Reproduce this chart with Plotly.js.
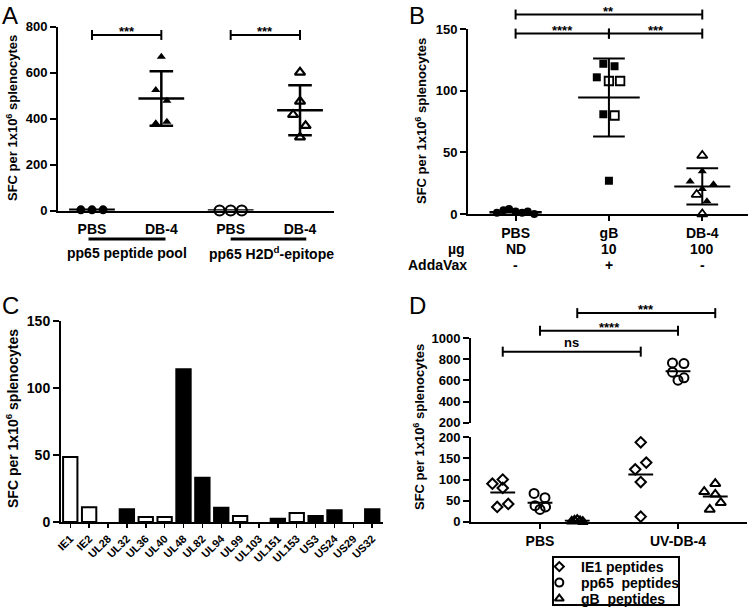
<!DOCTYPE html>
<html><head><meta charset="utf-8">
<script src="https://cdn.plot.ly/plotly-3.0.1.min.js"></script>
<style>html,body{margin:0;padding:0;background:#fff;overflow:hidden;}#chart{width:750px;height:611px;}</style>
</head><body><div id="chart"></div>
<script>
// ================= DATA =================
// Panel A
const aCats = ['PBS','DB-4','PBS','DB-4'];
const aGroupLabels = ['pp65 peptide pool','pp65 H2D<sup>d</sup>-epitope'];
const aPoolPBS = [3,3,3];
const aPoolPBSJit = [-0.16,0,0.16];
const aPoolDB4 = [669,525,478,386,380];
const aPoolDB4Jit = [0,-0.08,0.08,0.08,-0.08];
const aEpiPBS = [0,0,0];
const aEpiPBSJit = [-0.16,0,0.16];
const aEpiDB4 = [601,475,417,369,319];
const aEpiDB4Jit = [0,0,-0.1,0.08,0];
const aSigLabels = ['***','***'];
const aSigY = [764,764];

// Panel B
const bCats = ['PBS','gB','DB-4'];
const bDose = ['ND','10','100'];
const bAdda = ['-','+','-'];
const bPBSFilled = [1,3,4,2,1,2,0];
const bPBSFilledJit = [-0.2,-0.13,-0.07,0,0.07,0.13,0.2];
const bPBSOpen = [-1];
const bPBSOpenJit = [-0.12];
const bGBFilled = [122,120,111,81,27];
const bGBFilledJit = [-0.06,0.06,-0.13,-0.06,0];
const bGBOpen = [108,108,80];
const bGBOpenJit = [0,0.12,0.06];
const bDB4Filled = [34.8,26.4,24.2,20.4,10.3];
const bDB4FilledJit = [0,-0.13,0.12,0,0.05];
const bDB4Open = [47.5,15.8,0];
const bDB4OpenJit = [0,-0.06,0];
const bSig = [ {from:0,to:2,y:162,label:'**'}, {from:0,to:1,y:146.5,label:'****'}, {from:1,to:2,y:146.5,label:'***'} ];

// Panel C
const cCats = ['IE1','IE2','UL28','UL32','UL36','UL40','UL48','UL82','UL94','UL99','UL103','UL151','UL153','US3','US24','US29','US32'];
const cVals = [48.5,11,0,9.5,3.7,3.7,114,33,10.7,4.5,0,2.5,6.7,4.5,8.7,0,9.5];
const cFilled = [false,false,false,true,false,false,true,true,true,false,false,true,false,true,true,false,true];

// Panel D
const dGroups = ['PBS','UV-DB-4'];
const dSeries = ['IE1 peptides','pp65  peptides','gB  peptides'];
const dIE1PBS = [90,100,80,35,42];
const dIE1PBSJit = [-0.075,0,0,-0.04,0.04];
const dIE1UV = [188,140,124,94,12];
const dIE1UVJit = [0,0.04,-0.04,0,0];
const dPP65PBS = [67,57,38,29,35];
const dPP65PBSJit = [-0.043,0.036,-0.036,0,0.04];
const dPP65UV = [765,758,677,602,624];
const dPP65UVJit = [-0.04,0.043,-0.04,0,0.043];
const dGBPBS = [1,3,5,2,0];
const dGBPBSJit = [-0.04,-0.02,0,0.02,0.04];
const dGBUV = [90,71,65,45,29];
const dGBUVJit = [0,-0.08,0,0.04,-0.04];
const dBreak = 200;
const dSig = [ {series:0,y:871,label:'ns'}, {series:1,y:1069,label:'****'}, {series:2,y:1235,label:'***'} ];

// ================= STYLE / LAYOUT =================
const W = 750, H = 611;
const FF = 'Liberation Sans, Arial, Helvetica, sans-serif';
const px = v => v / W;
const py = v => 1 - v / H;
const boldFont = (s) => ({family: FF, size: s, color: 'black', weight: 700});

const dom = {
  xA: [px(58), px(334)],  yA: [py(210.5), py(26.7)],
  xB: [px(468), px(748)], yB: [py(214), py(29.3)],
  xC: [px(61), px(383)],  yC: [py(522), py(321)],
  xD: [px(471), px(747)], yD: [py(521.7), py(437.3)], yD2: [py(422.7), py(338)],
  xL: [px(553), px(679)], yL: [py(605), py(557)]
};
const rng = {
  xA: [-0.49, 3.49], yA: [0, 800],
  xB: [-0.51, 2.49], yB: [0, 150],
  xC: [-0.49, 16.57], yC: [0, 150],
  xD: [-0.5, 1.5], yD: [0, 200], yD2: [200, 1000],
  xL: [0, 1], yL: [2.4, -0.6]
};
const dOffsets = [-0.27, 0, 0.27];

const mean = a => a.reduce((s,v)=>s+v,0)/a.length;
const sd = a => { const m = mean(a); return a.length>1 ? Math.sqrt(a.reduce((s,v)=>s+(v-m)*(v-m),0)/(a.length-1)) : 0; };

const traces = [];
const shapes = [];
const annotations = [];

function pts(vals, jit, center, xa, ya, marker, extra) {
  traces.push(Object.assign({
    type:'scatter', mode:'markers',
    x: vals.map((v,i)=>center + jit[i]), y: vals,
    xaxis: xa, yaxis: ya, marker: marker, cliponaxis: false,
    showlegend: false, hoverinfo: 'skip'
  }, extra || {}));
}
function meanSD(vals, center, xa, ya, hw, cw, withSD, lw) {
  const m = mean(vals), s = sd(vals);
  const x = [center-hw, center+hw], y = [m, m];
  if (withSD && s > 0) {
    x.push(null, center, center, null, center-cw, center+cw, null, center-cw, center+cw);
    y.push(null, m-s, m+s, null, m+s, m+s, null, m-s, m-s);
  }
  traces.push({type:'scatter', mode:'lines', x, y, xaxis: xa, yaxis: ya,
    line:{color:'black', width: lw || 2.5}, showlegend:false, hoverinfo:'skip'});
}
function bracket(xref, yname, range, domain, x0, x1, yv, label, isText) {
  const yd = (yv - range[0])/(range[1]-range[0]);
  const cap = 5 / ((domain[1]-domain[0]) * H);
  const yref = yname + ' domain';
  const line = {color:'black', width:2};
  shapes.push({type:'line', xref, yref, x0, x1, y0: yd, y1: yd, line});
  shapes.push({type:'line', xref, yref, x0: x0, x1: x0, y0: yd-cap, y1: yd+cap, line});
  shapes.push({type:'line', xref, yref, x0: x1, x1: x1, y0: yd-cap, y1: yd+cap, line});
  annotations.push({xref, yref, x:(x0+x1)/2, y: yd, text: label, showarrow:false,
    xanchor:'center', yanchor:'bottom', yshift: isText ? 0 : -6, font: boldFont(13)});
}

// ---------- Panel A traces ----------
const blk = 'black';
pts(aPoolPBS, aPoolPBSJit, 0, 'x', 'y', {symbol:'circle', size:9, color:blk});
pts(aPoolDB4, aPoolDB4Jit, 1, 'x', 'y', {symbol:'triangle-up', size:8, color:blk});
pts(aEpiPBS, aEpiPBSJit, 2, 'x', 'y', {symbol:'circle-open', size:10, color:blk, line:{width:2.2, color:blk}});
pts(aEpiDB4, aEpiDB4Jit, 3, 'x', 'y', {symbol:'triangle-up-open', size:9, color:blk, line:{width:2.2, color:blk}});
[aPoolPBS, aPoolDB4, aEpiPBS, aEpiDB4].forEach((v,i)=> meanSD(v, i, 'x', 'y', 0.33, 0.17, true, 2.5));
aSigLabels.forEach((lab,i)=> bracket('x','y', rng.yA, dom.yA, 2*i, 2*i+1, aSigY[i], lab, false));
const aUnder = [[-0.05, 1.06], [2.0, 3.09]];
aGroupLabels.forEach((lab,i)=>{
  shapes.push({type:'line', xref:'x', yref:'paper', x0:aUnder[i][0], x1:aUnder[i][1], y0:py(239), y1:py(239), line:{color:'black', width:3}});
  annotations.push({xref:'x', yref:'paper', x: 2*i+0.5, xshift: i===1 ? 6 : 0, y: py(253), text: lab, showarrow:false,
    xanchor:'center', yanchor:'middle', font: boldFont(14)});
});

// ---------- Panel B traces ----------
pts(bPBSFilled, bPBSFilledJit, 0, 'x2', 'y2', {symbol:'circle', size:8, color:blk});
pts(bPBSOpen, bPBSOpenJit, 0, 'x2', 'y2', {symbol:'circle-open', size:8, color:blk, line:{width:1.8, color:blk}});
pts(bGBFilled, bGBFilledJit, 1, 'x2', 'y2', {symbol:'square', size:8, color:blk});
pts(bGBOpen, bGBOpenJit, 1, 'x2', 'y2', {symbol:'square-open', size:8.5, color:blk, line:{width:1.8, color:blk}});
pts(bDB4Filled, bDB4FilledJit, 2, 'x2', 'y2', {symbol:'triangle-up', size:8, color:blk});
pts(bDB4Open, bDB4OpenJit, 2, 'x2', 'y2', {symbol:'triangle-up-open', size:9, color:blk, line:{width:1.8, color:blk}});
meanSD(bPBSFilled.concat(bPBSOpen), 0, 'x2', 'y2', 0.28, 0.17, false, 2.5);
meanSD(bGBFilled.concat(bGBOpen), 1, 'x2', 'y2', 0.33, 0.17, true, 2);
meanSD(bDB4Filled.concat(bDB4Open), 2, 'x2', 'y2', 0.3, 0.17, true, 2);
bSig.forEach(s => bracket('x2','y2', rng.yB, dom.yB, s.from, s.to, s.y, s.label, false));
bCats.forEach((c,i)=>{
  annotations.push({xref:'x2', yref:'paper', x:i, y:py(249), text:bDose[i], showarrow:false, xanchor:'center', yanchor:'middle', font: boldFont(14)});
  annotations.push({xref:'x2', yref:'paper', x:i, y:py(265), text:bAdda[i], showarrow:false, xanchor:'center', yanchor:'middle', font: boldFont(14)});
});
annotations.push({xref:'paper', yref:'paper', x:px(467), y:py(249), text:'µg', showarrow:false, xanchor:'right', yanchor:'middle', font: boldFont(14)});
annotations.push({xref:'paper', yref:'paper', x:px(469), y:py(265), text:'AddaVax', showarrow:false, xanchor:'right', yanchor:'middle', font: boldFont(14)});

// ---------- Panel C traces ----------
traces.push({type:'bar', x: cCats.map((c,i)=>i), y: cVals, xaxis:'x3', yaxis:'y3', width:0.76,
  marker:{color: cFilled.map(f => f ? 'black' : 'white'), line:{color:'black', width: cVals.map(v => v > 0 ? 2 : 0)}},
  showlegend:false, hoverinfo:'skip'});

// ---------- Panel D traces ----------
const dData = [
  [[dIE1PBS, dIE1PBSJit], [dIE1UV, dIE1UVJit]],
  [[dPP65PBS, dPP65PBSJit], [dPP65UV, dPP65UVJit]],
  [[dGBPBS, dGBPBSJit], [dGBUV, dGBUVJit]]
];
const dMarkers = [
  {symbol:'diamond-open', size:8, color:blk, line:{width:2, color:blk}},
  {symbol:'circle-open', size:9, color:blk, line:{width:2, color:blk}},
  {symbol:'triangle-up-open', size:9, color:blk, line:{width:2, color:blk}}
];
dData.forEach((ser, si)=>{
  ser.forEach((grp, gi)=>{
    const [vals, jit] = grp;
    const center = gi + dOffsets[si];
    const lowV = [], lowJ = [], upV = [], upJ = [];
    vals.forEach((v,k)=>{ if (v > dBreak) { upV.push(v); upJ.push(jit[k]); } else { lowV.push(v); lowJ.push(jit[k]); } });
    if (lowV.length) pts(lowV, lowJ, center, 'x4', 'y4', dMarkers[si], {name: dSeries[si]});
    if (upV.length) pts(upV, upJ, center, 'x4', 'y5', dMarkers[si], {name: dSeries[si]});
    const m = mean(vals);
    meanSD(vals, center, 'x4', m > dBreak ? 'y5' : 'y4', 0.09, 0, false, 2);
  });
});
dSig.forEach(s => bracket('x4','y5', rng.yD2, dom.yD2, 0 + dOffsets[s.series], 1 + dOffsets[s.series], s.y, s.label, s.label === 'ns'));

// ---------- Panel D legend (keys on their own small axis, one row per series) ----------
shapes.push({type:'rect', xref:'paper', yref:'paper', x0:dom.xL[0], x1:dom.xL[1], y0:dom.yL[0], y1:dom.yL[1], line:{color:'black', width:2}, fillcolor:'white', layer:'below'});
dSeries.forEach((name, si)=>{
  traces.push({type:'scatter', mode:'markers', x:[0.05], y:[si], xaxis:'x6', yaxis:'y6',
    marker: Object.assign({}, dMarkers[si], {size: dMarkers[si].size - 1}), cliponaxis:false, showlegend:false, hoverinfo:'skip', name});
  annotations.push({xref:'x6', yref:'y6', x:0.21, y:si, text:name.replace(/  /g,'&nbsp; '), showarrow:false, xanchor:'left', yanchor:'middle', font: boldFont(14)});
});

// ---------- Axis titles & panel letters ----------
const yTitle = 'SFC per 1x10<sup>6</sup> splenocytes';
[[12,118,13],[421,121,13],[12,419,14],[419,427,13]].forEach(([x,y,s])=>{
  annotations.push({xref:'paper', yref:'paper', x:px(x), y:py(y), text:yTitle, textangle:-90, showarrow:false,
    xanchor:'center', yanchor:'middle', font: boldFont(s)});
});
[['A',0,0],['B',407,0],['C',0,290],['D',407,290]].forEach(([t,x,y])=>{
  annotations.push({xref:'paper', yref:'paper', x:px(x), y:py(y), text:t, showarrow:false,
    xanchor:'left', yanchor:'top', font:{family:FF, size:24, color:'black'}});
});

// ================= AXES =================
function yax(domain, range, dtick, anchor, fs) {
  return {domain, range, dtick, tick0: range[0], anchor, showline:true, linecolor:'black', linewidth:2,
    ticks:'outside', ticklen:6, tickwidth:2, tickcolor:'black', showgrid:false, zeroline:false,
    tickfont: boldFont(fs), fixedrange:true};
}
const layout = {
  width: W, height: H, margin:{l:0,r:0,t:0,b:0, autoexpand:false},
  paper_bgcolor:'white', plot_bgcolor:'rgba(0,0,0,0)',
  showlegend: false,
  xaxis: {domain: dom.xA, range: rng.xA, anchor:'y', tickvals: aCats.map((c,i)=>i), ticktext: aCats,
    showline:true, linecolor:'black', linewidth:2, ticks:'', ticklabelstandoff:5, showgrid:false, zeroline:false, tickfont: boldFont(14)},
  yaxis: yax(dom.yA, rng.yA, 200, 'x', 13),
  xaxis2: {domain: dom.xB, range: rng.xB, anchor:'y2', tickvals: bCats.map((c,i)=>i), ticktext: bCats,
    showline:true, linecolor:'black', linewidth:2, ticks:'outside', ticklen:5, tickwidth:2, tickcolor:'black', showgrid:false, zeroline:false, tickfont: boldFont(14)},
  yaxis2: yax(dom.yB, rng.yB, 50, 'x2', 13),
  xaxis3: {domain: dom.xC, range: rng.xC, anchor:'y3', tickvals: cCats.map((c,i)=>i), ticktext: cCats, tickangle:-45,
    showline:true, linecolor:'black', linewidth:2, ticks:'outside', ticklen:4, tickwidth:1.5, tickcolor:'black', showgrid:false, zeroline:false, tickfont: boldFont(11)},
  yaxis3: yax(dom.yC, rng.yC, 50, 'x3', 14),
  xaxis4: {domain: dom.xD, range: rng.xD, anchor:'y4', tickvals: dGroups.map((c,i)=>i), ticktext: dGroups,
    showline:true, linecolor:'black', linewidth:2, ticks:'outside', ticklen:5, tickwidth:2, tickcolor:'black', showgrid:false, zeroline:false, tickfont: boldFont(14)},
  yaxis4: yax(dom.yD, rng.yD, 50, 'x4', 13),
  yaxis5: yax(dom.yD2, rng.yD2, 200, 'x4', 13),
  xaxis6: {domain: dom.xL, range: rng.xL, anchor:'y6', visible:false, fixedrange:true},
  yaxis6: {domain: dom.yL, range: rng.yL, anchor:'x6', visible:false, fixedrange:true},
  shapes, annotations,
  bargap: 0
};
Plotly.newPlot('chart', traces, layout, {displayModeBar:false, staticPlot:true});
</script></body></html>
